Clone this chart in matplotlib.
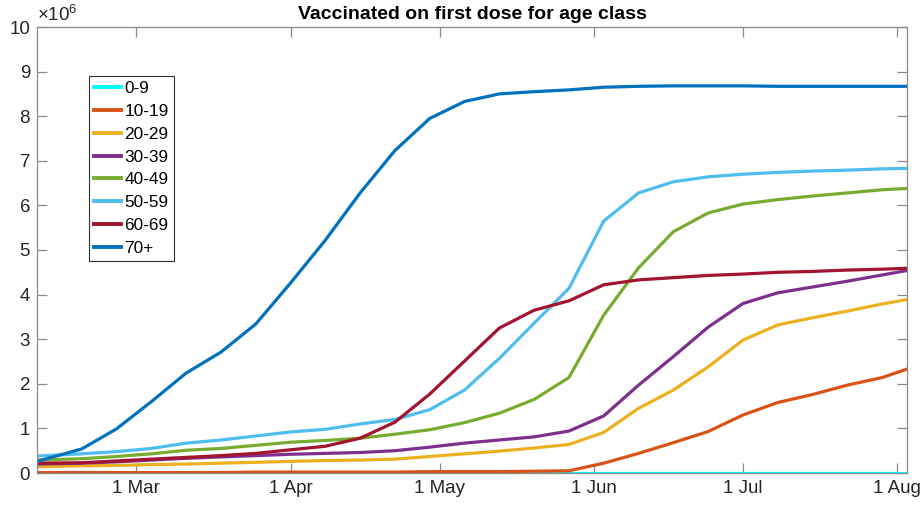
import matplotlib
matplotlib.use("Agg")
import matplotlib.pyplot as plt
import matplotlib.dates as mdates
import numpy as np
from datetime import datetime

plt.rcParams['font.family'] = ['Liberation Sans', 'DejaVu Sans']
plt.rcParams['mathtext.fontset'] = 'custom'
plt.rcParams['mathtext.rm'] = 'Liberation Sans'
plt.rcParams['mathtext.it'] = 'Liberation Sans'

dates = ["2021-02-09", "2021-02-18", "2021-02-25", "2021-03-04", "2021-03-11", "2021-03-18",
         "2021-03-25", "2021-04-01", "2021-04-08", "2021-04-15", "2021-04-22", "2021-04-29",
         "2021-05-06", "2021-05-13", "2021-05-20", "2021-05-27", "2021-06-03", "2021-06-10",
         "2021-06-17", "2021-06-24", "2021-07-01", "2021-07-08", "2021-07-15", "2021-07-22",
         "2021-07-29", "2021-08-03"]

age_classes = ["0-9", "10-19", "20-29", "30-39", "40-49", "50-59", "60-69", "70+"]

# values in millions
v_0_9 = [0.0] * 26
v_10_19 = [0.01, 0.01, 0.01, 0.01, 0.01, 0.01, 0.02, 0.02, 0.02, 0.02, 0.02, 0.03, 0.03,
           0.03, 0.04, 0.05, 0.22, 0.44, 0.68, 0.93, 1.30, 1.58, 1.76, 1.97, 2.14, 2.33]
v_20_29 = [0.14, 0.16, 0.17, 0.19, 0.20, 0.22, 0.24, 0.26, 0.28, 0.29, 0.31, 0.37, 0.43,
           0.49, 0.56, 0.64, 0.91, 1.45, 1.86, 2.38, 2.98, 3.32, 3.48, 3.63, 3.79, 3.89]
v_30_39 = [0.20, 0.22, 0.25, 0.29, 0.33, 0.36, 0.39, 0.42, 0.44, 0.46, 0.50, 0.58, 0.67,
           0.74, 0.81, 0.94, 1.28, 1.97, 2.61, 3.27, 3.80, 4.04, 4.17, 4.30, 4.44, 4.54]
v_40_49 = [0.29, 0.32, 0.37, 0.43, 0.51, 0.55, 0.62, 0.69, 0.73, 0.78, 0.87, 0.97, 1.13,
           1.34, 1.65, 2.14, 3.54, 4.60, 5.41, 5.83, 6.03, 6.13, 6.21, 6.28, 6.35, 6.38]
v_50_59 = [0.38, 0.43, 0.48, 0.55, 0.67, 0.74, 0.83, 0.92, 0.98, 1.10, 1.20, 1.42, 1.86,
           2.57, 3.36, 4.14, 5.65, 6.28, 6.53, 6.64, 6.70, 6.74, 6.77, 6.79, 6.82, 6.83]
v_60_69 = [0.22, 0.23, 0.27, 0.31, 0.35, 0.39, 0.44, 0.52, 0.60, 0.78, 1.14, 1.77, 2.51,
           3.25, 3.65, 3.86, 4.22, 4.33, 4.38, 4.43, 4.46, 4.50, 4.52, 4.55, 4.57, 4.59]
v_70p = [0.26, 0.54, 0.99, 1.60, 2.24, 2.71, 3.34, 4.26, 5.22, 6.28, 7.23, 7.95, 8.33,
         8.50, 8.55, 8.59, 8.65, 8.67, 8.68, 8.68, 8.68, 8.67, 8.67, 8.67, 8.67, 8.67]

tick_dates = ["2021-03-01", "2021-04-01", "2021-05-01", "2021-06-01", "2021-07-01", "2021-08-01"]
tick_labels = ["1 Mar", "1 Apr", "1 May", "1 Jun", "1 Jul", "1 Aug"]
y_ticks = list(range(0, 11))

colors = ["#00FFFF", "#D95319", "#EDB120", "#7E2F8E", "#77AC30", "#4DBEEE", "#A2142F", "#0072BD"]
series = [v_0_9, v_10_19, v_20_29, v_30_39, v_40_49, v_50_59, v_60_69, v_70p]

x = [datetime.strptime(d, "%Y-%m-%d") for d in dates]

fig = plt.figure(figsize=(9.24, 5.08), dpi=100)
ax = fig.add_axes([37/924, 1 - 473/508, (907 - 37)/924, (473 - 27)/508])

for vals, c, lab in zip(series, colors, age_classes):
    ax.plot(x, vals, color=c, lw=2.3, label=lab, solid_joinstyle='round')

ax.set_xlim(datetime(2021, 2, 9), datetime(2021, 8, 3))
ax.set_ylim(0, 10)
ax.set_yticks(y_ticks)
ax.set_yticklabels([str(t) for t in y_ticks])
ax.set_xticks([datetime.strptime(d, "%Y-%m-%d") for d in tick_dates])
ax.set_xticklabels(tick_labels)

spine_c = '#8a8a8a'
for s in ax.spines.values():
    s.set_color(spine_c)
    s.set_linewidth(0.9)
ax.tick_params(direction='in', length=7, width=0.9, color=spine_c, labelcolor='#262626',
               labelsize=13.5, top=True, right=True, pad=5)

ax.set_title("Vaccinated on first dose for age class", fontsize=14, fontweight='bold',
             pad=6, color='black')
ax.text(0.0, 1.005, r'$\times10^{6}$', transform=ax.transAxes, fontsize=13.5,
        color='#262626', ha='left', va='bottom')

leg = ax.legend(loc='upper left', bbox_to_anchor=(89/924, 1 - 76/508),
                bbox_transform=fig.transFigure, fontsize=12.4, frameon=True,
                fancybox=False, edgecolor='#333333', framealpha=1,
                handlelength=1.55, handletextpad=0.2, labelspacing=0.45,
                borderpad=0.3, borderaxespad=0)
leg.get_frame().set_linewidth(0.8)
for h in leg.get_lines():
    h.set_linewidth(2.8)

fig.savefig("out.png", dpi=100)
